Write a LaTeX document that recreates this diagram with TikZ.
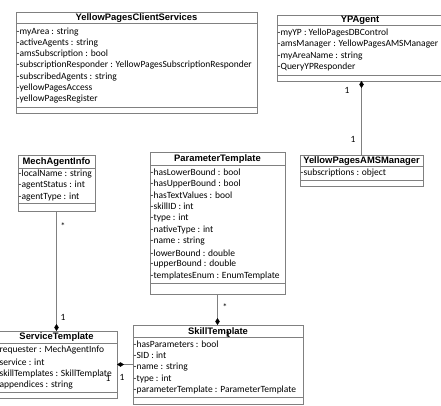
\documentclass[tikz,border=0pt]{standalone}
\usepackage{fontspec}
\setmainfont{Carlito}
\newfontfamily\titlefont{Liberation Sans}
\usetikzlibrary{arrows.meta}
\definecolor{linegray}{RGB}{128,128,128}
\tikzset{
  cls/.style={draw=linegray, line width=0.8pt, inner sep=0pt, outer sep=0pt},
  sepline/.style={draw=linegray, line width=0.8pt},
  ttl/.style={font=\titlefont\bfseries\fontsize{9.4}{10}\selectfont, inner sep=0pt},
  attr/.style={font=\fontsize{9.5}{11}\selectfont, inner sep=0pt, anchor=west},
  mult/.style={font=\fontsize{9.5}{11}\selectfont, inner sep=0pt},
  assoc/.style={draw=linegray, line width=0.8pt},
  comp/.style={assoc, -{Diamond[width=4.5pt,length=7pt,color=black]}}
}
\begin{document}
\begin{tikzpicture}[x=1pt,y=-1pt]
\useasboundingbox (0,0) rectangle (441,405);
\clip (0,0) rectangle (441,405);

% YellowPagesClientServices
\node[cls, minimum width=241pt, minimum height=101pt] (ypcs) at (136.5,62.5) {};
\node[ttl] (ypcs-t) at (136.5,17.8) {YellowPagesClientServices};
\draw[sepline] (ypcs.west |- 0,23) -- (ypcs.east |- 0,23);
\draw[sepline] (ypcs.west |- 0,107) -- (ypcs.east |- 0,107);
\foreach \t [count=\i] in {-myArea : string,-activeAgents : string,-amsSubscription : bool,-subscriptionResponder : YellowPagesSubscriptionResponder,-subscribedAgents : string,-yellowPagesAccess,-yellowPagesRegister}
  \node[attr] (ypcs-a\i) at (16.5,{32+(\i-1)*11.15}) {\t};

% YPAgent
\node[cls, minimum width=166pt, minimum height=66pt] (ypa) at (360,48) {};
\node[ttl] (ypa-t) at (360,20.3) {YPAgent};
\draw[sepline] (ypa.west |- 0,25) -- (ypa.east |- 0,25);
\draw[sepline] (ypa.west |- 0,75) -- (ypa.east |- 0,75);
\foreach \t [count=\i] in {-myYP : YelloPagesDBControl,-amsManager : YellowPagesAMSManager,-myAreaName : string,-QueryYPResponder}
  \node[attr] (ypa-a\i) at (277.5,{33+(\i-1)*11.4}) {\t};

% YellowPagesAMSManager
\node[cls, minimum width=123pt, minimum height=31pt] (ams) at (361.5,170.5) {};
\node[ttl] (ams-t) at (361.5,160.8) {YellowPagesAMSManager};
\draw[sepline] (ams.west |- 0,166) -- (ams.east |- 0,166);
\draw[sepline] (ams.west |- 0,180) -- (ams.east |- 0,180);
\node[attr] (ams-a1) at (300.5,173) {-subscriptions : object};

% MechAgentInfo
\node[cls, minimum width=77pt, minimum height=56pt] (mai) at (56.5,183) {};
\node[ttl] (mai-t) at (56.5,161.8) {MechAgentInfo};
\draw[sepline] (mai.west |- 0,168) -- (mai.east |- 0,168);
\draw[sepline] (mai.west |- 0,203) -- (mai.east |- 0,203);
\foreach \t [count=\i] in {-localName : string,-agentStatus : int,-agentType : int}
  \node[attr] (mai-a\i) at (18.5,{174+(\i-1)*11.5}) {\t};

% ParameterTemplate
\node[cls, minimum width=135pt, minimum height=142pt] (pt) at (217.5,223) {};
\node[ttl] (pt-t) at (217.5,158.8) {ParameterTemplate};
\draw[sepline] (pt.west |- 0,165) -- (pt.east |- 0,165);
\draw[sepline] (pt.west |- 0,283) -- (pt.east |- 0,283);
\foreach \t [count=\i] in {-hasLowerBound : bool,-hasUpperBound : bool,-hasTextValues : bool,-skillID : int,-type : int,-nativeType : int,-name : string,-lowerBound : double,-upperBound : double,-templatesEnum : EnumTemplate}
  \node[attr] (pt-a\i) at (150.5,{172+(\i-1)*11.55}) {\t};

% ServiceTemplate
\node[cls, minimum width=121pt, minimum height=67pt] (st) at (56.5,364.5) {};
\node[ttl] (st-t) at (56.5,337.3) {ServiceTemplate};
\draw[sepline] (st.west |- 0,343) -- (st.east |- 0,343);
\draw[sepline] (st.west |- 0,392) -- (st.east |- 0,392);
\foreach \t [count=\i] in {-requester : MechAgentInfo,-service : int,-skillTemplates : SkillTemplate,-appendices : string}
  \node[attr] (st-a\i) at (-3.5,{350.5+(\i-1)*11.5}) {\t};

% SkillTemplate
\node[cls, minimum width=170pt, minimum height=79pt] (sk) at (218,364.5) {};
\node[ttl] (sk-t) at (218,331.8) {SkillTemplate};
\draw[sepline] (sk.west |- 0,337.5) -- (sk.east |- 0,337.5);
\draw[sepline] (sk.west |- 0,397) -- (sk.east |- 0,397);
\foreach \t [count=\i] in {-hasParameters : bool,-SID : int,-name : string,-type : int,-parameterTemplate : ParameterTemplate}
  \node[attr] (sk-a\i) at (133.5,{344+(\i-1)*11.6}) {\t};

% connectors
\draw[comp] (ams.north) -- (ams.north |- ypa.south);
\draw[comp] (mai.south) -- (mai.south |- st.north);
\draw[comp] (pt.south) -- (pt.south |- sk.north);
\draw[comp] (sk.west) -- (sk.west -| st.east);

% multiplicities
\node[mult] (m1) at (347,90) {1};
\node[mult] (m2) at (353,139) {1};
\node[mult] (m3) at (63,226) {*};
\node[mult] (m4) at (63,317) {1};
\node[mult] (m5) at (225,307) {*};
\node[mult] (m6) at (108,378) {1};
\node[mult] (m7) at (122,377) {1};
\node[mult] (m8) at (228,334) {1};
\end{tikzpicture}
\end{document}
